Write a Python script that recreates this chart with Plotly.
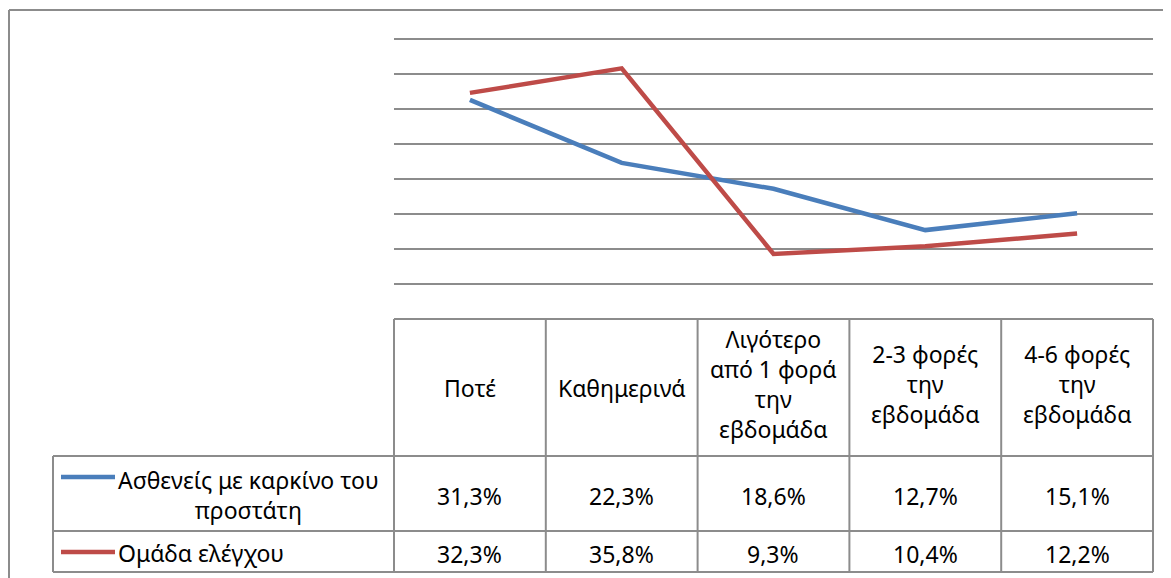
import plotly.graph_objects as go

# ---- data ----
categories = ["Ποτέ", "Καθημερινά", "Λιγότερο από 1 φορά την εβδομάδα",
              "2-3 φορές την εβδομάδα", "4-6 φορές την εβδομάδα"]
category_labels = ["Ποτέ", "Καθημερινά", "Λιγότερο<br>από 1 φορά<br>την<br>εβδομάδα",
                   "2-3 φορές<br>την<br>εβδομάδα", "4-6 φορές<br>την<br>εβδομάδα"]
series_names = ["Ασθενείς με καρκίνο του<br>προστάτη", "Ομάδα ελέγχου"]
patients = [31.3, 22.3, 18.6, 12.7, 15.1]
controls = [32.3, 35.8, 9.3, 10.4, 12.2]
series_values = [patients, controls]
series_colors = ["#4A7EBB", "#BE4B48"]
y_min, y_max, y_step = 0, 40, 5

# ---- layout geometry (page pixels; page body has an 8px margin) ----
OFF = 8
W, H = 1171 - OFF, 578 - OFF
def px(x): return (x - OFF) / W
def py(y): return 1 - (y - OFF) / H

X0, X1 = 394, 1153          # plot area / table columns
Y_ZERO = 319                # 0% line (table top)
PX_PER_UNIT = 7.0           # 35px per 5%
Y_PAD = 0.5                 # extra range so the 40% gridline is drawn
Y_TOP = Y_ZERO - (y_max + Y_PAD) * PX_PER_UNIT
LEG_X = 53
ROW_TOP = [456, 531]
ROW_BOT = [531, 572]
GRID = "#8c8c8c"
FONT = "Noto Sans"
FS = 23

fig = go.Figure()
for name, vals, col in zip(series_names, series_values, series_colors):
    fig.add_trace(go.Scatter(x=categories, y=vals, mode="lines", name=name,
                             line=dict(color=col, width=4.5),
                             showlegend=False, hoverinfo="skip"))

shapes = []
def hline(y, xa, xb, w=2):
    shapes.append(dict(type="line", xref="paper", yref="paper", x0=px(xa), x1=px(xb),
                       y0=py(y), y1=py(y), line=dict(color=GRID, width=w)))
def vline(x, ya, yb, w=2):
    shapes.append(dict(type="line", xref="paper", yref="paper", x0=px(x), x1=px(x),
                       y0=py(ya), y1=py(yb), line=dict(color=GRID, width=w)))

# outer chart frame (left + top)
vline(9, 10, 580)
hline(10, 9, 1175)

# data table
n = len(categories)
col_w = (X1 - X0) / n
hline(Y_ZERO, X0, X1)
for y in [ROW_TOP[0], ROW_TOP[1], ROW_BOT[1]]:
    hline(y, LEG_X, X1)
vline(LEG_X, ROW_TOP[0], ROW_BOT[1])
for i in range(n + 1):
    vline(X0 + i * col_w, Y_ZERO, ROW_BOT[1])

annotations = []
def text(x, y, s, xanchor="center", align="center"):
    annotations.append(dict(x=px(x), y=py(y), xref="paper", yref="paper", text=s,
                            showarrow=False, xanchor=xanchor, yanchor="middle", align=align,
                            font=dict(family=FONT, size=FS, color="black")))

# header labels
for i, lab in enumerate(category_labels):
    cx = X0 + (i + 0.5) * col_w
    center = 384 if "<br>" in lab else 388
    text(cx, center, lab)

# value rows + legend cells
for r, (name, vals, col) in enumerate(zip(series_names, series_values, series_colors)):
    cy = (ROW_TOP[r] + ROW_BOT[r]) / 2 + 2
    for i, v in enumerate(vals):
        text(X0 + (i + 0.5) * col_w, cy, f"{v:.1f}%".replace(".", ","))
    key_y = 477 if r == 0 else 552
    shapes.append(dict(type="line", xref="paper", yref="paper", x0=px(61), x1=px(115),
                       y0=py(key_y), y1=py(key_y), line=dict(color=col, width=4.5)))
    text(116, (ROW_TOP[r] + ROW_BOT[r]) / 2 + 1, name, xanchor="left", align="center")

fig.update_layout(
    width=W, height=H, margin=dict(l=0, r=0, t=0, b=0),
    paper_bgcolor="white", plot_bgcolor="white",
    xaxis=dict(domain=[px(X0), px(X1)], type="category", range=[-0.5, n - 0.5],
               showticklabels=False, showgrid=False, zeroline=False, showline=False,
               ticks=""),
    yaxis=dict(domain=[py(Y_ZERO), py(Y_TOP)], range=[y_min, y_max + Y_PAD], dtick=y_step,
               showticklabels=False, showgrid=True, gridcolor=GRID, gridwidth=2,
               zeroline=False, showline=False, ticks=""),
    shapes=shapes, annotations=annotations, showlegend=False,
)

fig.write_html("out.html")
